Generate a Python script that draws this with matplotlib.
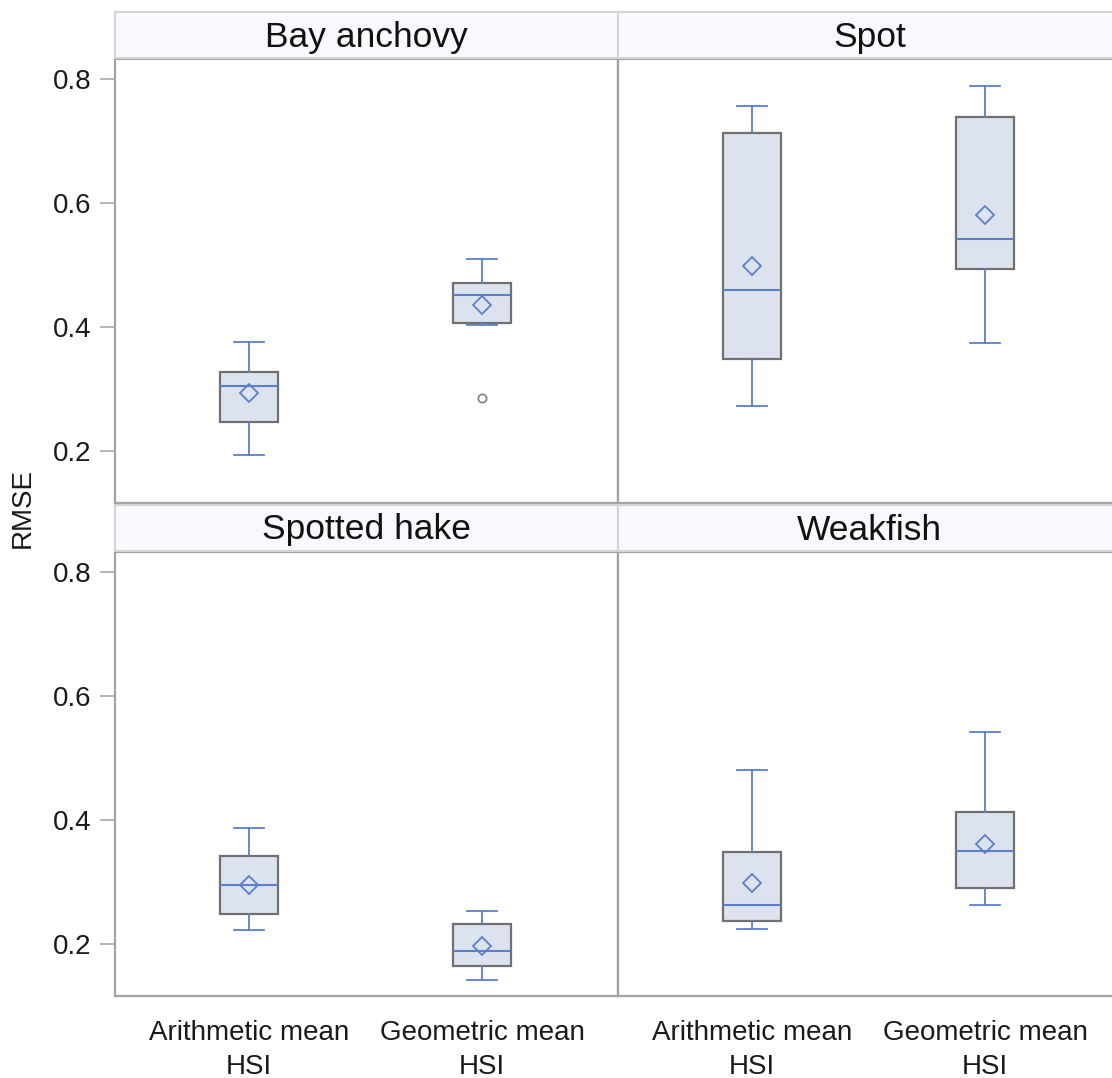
import numpy as np
import matplotlib.pyplot as plt

plt.rcParams['font.family'] = ['Liberation Sans', 'DejaVu Sans']

# panel order: top-left, top-right, bottom-left, bottom-right
species = ['Bay anchovy', 'Spot', 'Spotted hake', 'Weakfish']
methods = ['Arithmetic mean\nHSI', 'Geometric mean\nHSI']

# one row per species, columns = [arithmetic, geometric]
whislo = [[0.194, 0.403], [0.273, 0.374], [0.223, 0.142], [0.224, 0.263]]
q1 = [[0.247, 0.406], [0.348, 0.494], [0.248, 0.165], [0.237, 0.290]]
med = [[0.305, 0.452], [0.459, 0.541], [0.295, 0.189], [0.262, 0.350]]
mean = [[0.294, 0.435], [0.498, 0.581], [0.295, 0.196], [0.298, 0.361]]
q3 = [[0.327, 0.471], [0.713, 0.739], [0.341, 0.232], [0.349, 0.413]]
whishi = [[0.375, 0.510], [0.757, 0.789], [0.387, 0.253], [0.480, 0.542]]
fliers = [[[], [0.285]], [[], []], [[], []], [[], []]]

yticks = [0.2, 0.4, 0.6, 0.8]

W, H = 1112, 1078
fig = plt.figure(figsize=(W / 100, H / 100), dpi=100)

blue = '#5b7fcf'
boxedge = '#707070'
boxfill = '#dde3ee'
frame = '#a3a3a3'

# pixel layout of panels
lefts = [115, 618]
plot_tops = [59, 552]
panel_w, panel_h, head_h = 503, 444, 46

for i, name in enumerate(species):
    row, col = i // 2, i % 2
    x0 = lefts[col]
    y0 = plot_tops[row]
    ax = fig.add_axes([x0 / W, 1 - (y0 + panel_h) / H, panel_w / W, panel_h / H])
    hx = fig.add_axes([x0 / W, 1 - (y0 - 1) / H, panel_w / W, head_h / H])

    stats = []
    for j in range(2):
        stats.append({'whislo': whislo[i][j], 'q1': q1[i][j], 'med': med[i][j],
                      'mean': mean[i][j], 'q3': q3[i][j], 'whishi': whishi[i][j],
                      'fliers': fliers[i][j]})
    ax.bxp(stats, positions=[0, 1], widths=0.25, capwidths=0.125,
           showmeans=True, patch_artist=True, manage_ticks=False,
           boxprops=dict(facecolor=boxfill, edgecolor=boxedge, linewidth=1.6),
           whiskerprops=dict(color=blue, linewidth=1.3),
           capprops=dict(color=blue, linewidth=1.3),
           medianprops=dict(color=blue, linewidth=1.5),
           meanprops=dict(marker='D', markersize=9.5, markerfacecolor='none',
                          markeredgecolor=blue, markeredgewidth=1.3),
           flierprops=dict(marker='o', markersize=6, markerfacecolor='none',
                           markeredgecolor='#808080', markeredgewidth=1.2))
    ax.set_xlim(-0.575, 1.584)
    ax.set_ylim(0.116, 0.832)
    for s in ax.spines.values():
        s.set_color(frame)
        s.set_linewidth(1.6)

    ax.set_yticks(yticks)
    if col == 0:
        ax.set_yticklabels(['%.1f' % t for t in yticks])
        ax.tick_params(axis='y', length=10.8, width=1.3, color='#b0b0b0',
                       labelsize=20, labelcolor='#1a1a1a', pad=6)
    else:
        ax.tick_params(axis='y', left=False, labelleft=False)
    ax.set_xticks([0, 1])
    if row == 1:
        ax.set_xticklabels(methods, linespacing=1.4)
        ax.tick_params(axis='x', length=0, labelsize=20, labelcolor='#1a1a1a', pad=17)
    else:
        ax.tick_params(axis='x', bottom=False, labelbottom=False)

    hx.set_facecolor('#f8f9fd')
    hx.set_xticks([])
    hx.set_yticks([])
    for s in hx.spines.values():
        s.set_color('#d4d4d4')
        s.set_linewidth(1.5)
    hx.text(0.5, 0.25, name, ha='center', va='baseline', fontsize=25.5,
            color='#111111', transform=hx.transAxes)

fig.text(23 / W, 1 - 508 / H, 'RMSE', rotation=90, ha='center', va='center',
         fontsize=20, color='#1a1a1a')

fig.savefig('out.png', dpi=100)
